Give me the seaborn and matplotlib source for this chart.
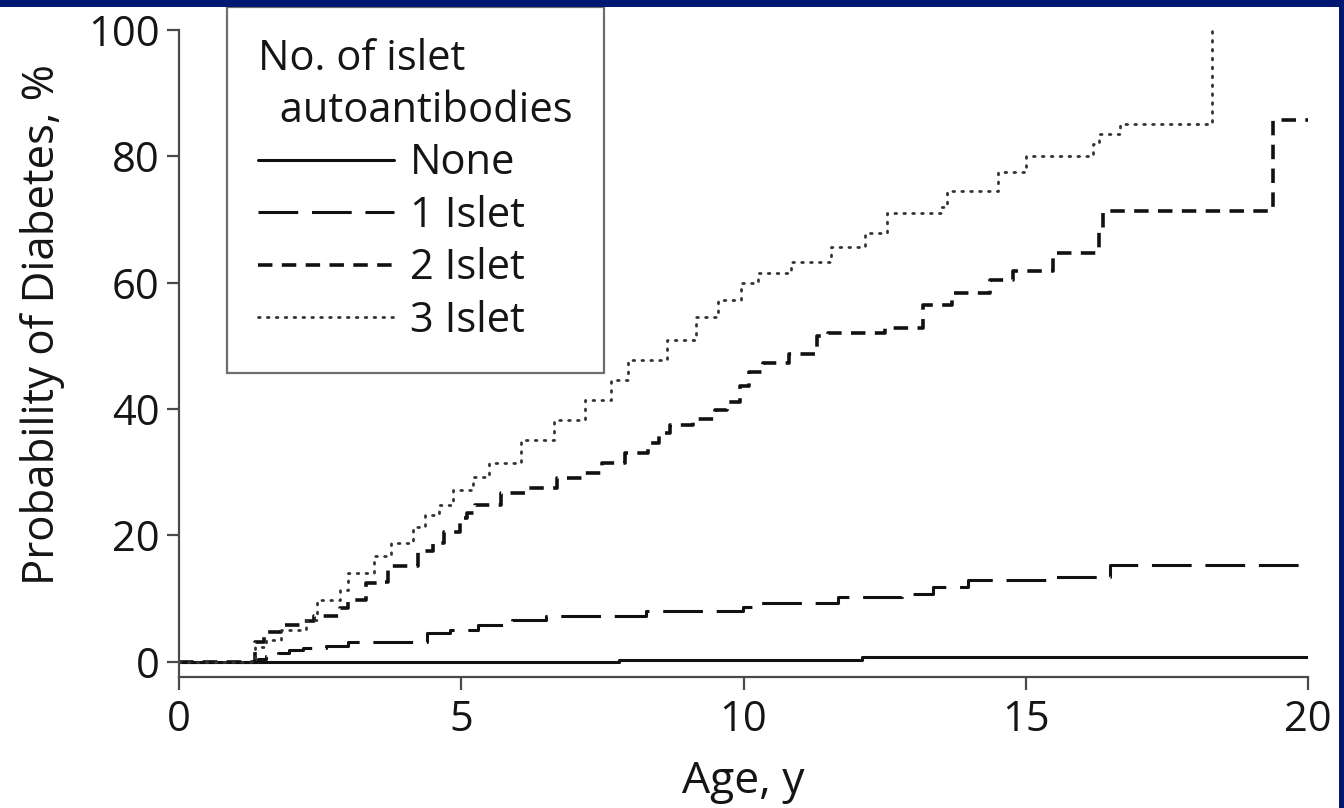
import numpy as np
import pandas as pd
import matplotlib
matplotlib.use("Agg")
import matplotlib.pyplot as plt
from matplotlib.patches import Rectangle
import seaborn as sns

# ---- data ----
age_none = [0, 7.8, 12.1, 20]
p_none = [0, 0.3, 0.7, 0.7]

age_1 = [0, 1.4, 1.55, 1.75, 1.95, 2.2, 2.6, 3.0, 4.39, 4.8, 5.3, 5.9, 6.5, 8.28,
         9.99, 10.3, 11.67, 12.8, 13.36, 13.98, 15.4, 16.5, 20]
p_1 = [0, 0.5, 0.9, 1.4, 1.9, 2.2, 2.5, 3.2, 4.5, 5.0, 5.8, 6.6, 7.2, 8.0,
       8.6, 9.3, 10.3, 10.8, 11.8, 13.0, 13.4, 15.3, 15.3]

age_2 = [0, 1.35, 1.5, 1.8, 2.2, 2.4, 2.85, 3.0, 3.32, 3.5, 3.7, 4.24, 4.5, 4.7,
         4.98, 5.1, 5.25, 5.7, 6.2, 6.7, 7.2, 7.5, 7.9, 8.3, 8.5, 8.7, 9.1, 9.5,
         9.7, 9.94, 10.1, 10.35, 10.8, 11.3, 11.5, 12.5, 13.18, 13.7, 14.37,
         14.78, 15.49, 16.3, 16.37, 19.38, 20]
p_2 = [0, 3.2, 4.8, 5.9, 6.5, 7.2, 8.5, 9.8, 12.4, 12.7, 15.1, 17.5, 18.8, 20.6,
       22.7, 23.6, 24.8, 26.7, 27.5, 29.1, 29.9, 31.4, 33.0, 34.6, 36.2, 37.5,
       38.5, 39.9, 41.2, 43.6, 45.9, 47.3, 48.8, 51.5, 52.0, 52.8, 56.5, 58.3,
       60.4, 61.8, 64.7, 68.4, 71.4, 85.8, 85.8]

age_3 = [0, 1.35, 1.55, 1.8, 2.25, 2.45, 2.85, 3.0, 3.45, 3.75, 4.15, 4.35, 4.6,
         4.85, 5.2, 5.5, 6.05, 6.65, 7.2, 7.65, 7.95, 8.65, 9.15, 9.55, 9.95,
         10.25, 10.85, 11.55, 12.15, 12.55, 13.5, 13.6, 14.5, 15.0, 16.2, 16.3,
         16.67, 18.3]
p_3 = [0, 2.4, 3.5, 5.1, 6.6, 9.8, 11.4, 14.1, 16.7, 18.8, 21.4, 23.3, 24.8,
       27.2, 29.3, 31.4, 35.1, 38.3, 41.5, 44.6, 47.8, 50.9, 54.6, 57.3, 59.9,
       61.5, 63.3, 65.7, 67.8, 71.0, 72.0, 74.5, 77.5, 80.0, 82.0, 83.6,
       85.2, 100.0]

labels = ["None", "1 Islet", "2 Islet", "3 Islet"]
x_ticks = [0, 5, 10, 15, 20]
y_ticks = [0, 20, 40, 60, 80, 100]

series = [(age_none, p_none), (age_1, p_1), (age_2, p_2), (age_3, p_3)]
styles = [
    dict(color="#111111", lw=2.2, linestyle="-"),
    dict(color="#111111", lw=2.2, linestyle=(0, (13, 4.5))),
    dict(color="#111111", lw=2.6, linestyle=(0, (4.0, 2.6))),
    dict(color="#333333", lw=2.0, linestyle=(0, (0.6, 2.6)), dash_capstyle="round"),
]

sns.set_theme(style="white")
plt.rcParams["font.family"] = ["Open Sans", "DejaVu Sans"]

W, H = 1344, 808
fig = plt.figure(figsize=(W / 100, H / 100), dpi=100)
fig.patch.set_facecolor("white")
ax = fig.add_axes([179 / W, 131 / H, 1129 / W, 647 / H])

for (a, p), lab, st in zip(series, labels, styles):
    df = pd.DataFrame({"age": a, "prob": p})
    sns.lineplot(data=df, x="age", y="prob", ax=ax, estimator=None, sort=False,
                 drawstyle="steps-post", label=lab, **st)

ax.set_xlim(0, 20)
ax.set_ylim(-2.4, 100)
ax.set_xticks(x_ticks)
ax.set_yticks(y_ticks)
ax.set_xticklabels([str(t) for t in x_ticks])
ax.set_yticklabels([str(t) for t in y_ticks])

spine_c = "#4a4a4a"
for s in ["top", "right"]:
    ax.spines[s].set_visible(False)
for s in ["left", "bottom"]:
    ax.spines[s].set_color(spine_c)
    ax.spines[s].set_linewidth(1.6)
ax.tick_params(axis="both", direction="out", length=9, width=1.6, color=spine_c,
               labelsize=30, labelcolor="#151515", left=True, bottom=True)
ax.tick_params(axis="y", pad=5)
ax.tick_params(axis="x", pad=7)

ax.set_xlabel("Age, y", fontsize=32, color="#151515")
ax.set_ylabel("Probability of Diabetes, %", fontsize=31.5, color="#151515")
ax.xaxis.set_label_coords(0.5, -0.162)
ax.xaxis.label.set_va("center")
ax.yaxis.set_label_coords(-0.121, 0.544)
ax.yaxis.label.set_va("center")

leg = ax.legend(title="No. of islet\n  autoantibodies", loc="upper left",
                bbox_to_anchor=(227 / W, 1 - 7 / H), bbox_transform=fig.transFigure,
                frameon=True, fancybox=False, edgecolor="#6e6e6e", framealpha=1,
                fontsize=30, title_fontsize=30, handlelength=3.25, handletextpad=0.4,
                borderpad=0.75, labelspacing=0.25, alignment="left", borderaxespad=0)
leg.get_frame().set_linewidth(1.6)
for t in leg.get_texts():
    t.set_color("#151515")
leg.get_title().set_color("#151515")
leg.get_title().set_linespacing(1.3)

navy = "#001871"
fig.add_artist(Rectangle((0, 1 - 7 / H), 1, 7 / H, transform=fig.transFigure,
                         facecolor=navy, edgecolor="none", zorder=20))
fig.add_artist(Rectangle((1 - 5 / W, 0), 5 / W, 1, transform=fig.transFigure,
                         facecolor=navy, edgecolor="none", zorder=20))

fig.savefig("out.png", dpi=100, facecolor="white")
